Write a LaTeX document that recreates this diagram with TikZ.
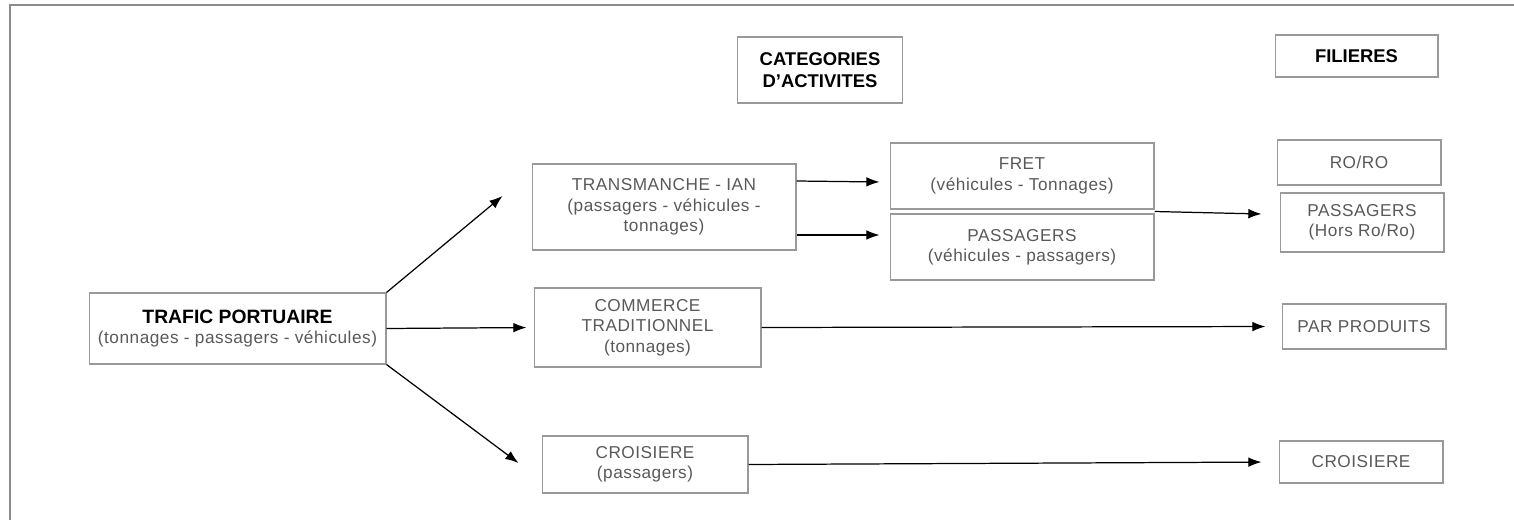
\documentclass[tikz,border=0pt]{standalone}
\usepackage{fontspec}
\setmainfont{Liberation Sans}
\newfontfamily\largefont[LetterSpace=3]{Liberation Sans}
\usetikzlibrary{arrows.meta,calc}

\begin{document}
\begin{tikzpicture}[x=0.02cm,y=-0.02cm,
	box/.style={draw=black!40, line width=0.6pt, inner sep=0pt, align=center, text=black!65, font=\largefont\fontsize{9.8}{11.6}\selectfont},
	head/.style={box, text=black, font=\rmfamily\fontsize{10.5}{12.5}\selectfont\bfseries},
	fleche/.style={-{Latex[length=7.5pt,width=5.5pt]}, line width=0.7pt}]

	\useasboundingbox (0,0) rectangle (1514,520);
	\draw[black!45, line width=1.1pt] (1514,5) -- (10,5) -- (10,520);

	\node[head, minimum width=3.3cm, minimum height=1.32cm] (cat) at (820,70) {CATEGORIES\\D'ACTIVITES};
	\node[head, minimum width=3.26cm, minimum height=0.84cm] (fil) at (1356.5,56) {FILIERES};

	\node[box, minimum width=5.94cm, minimum height=1.42cm] (trafic) at (237.5,328.5) {{\rmfamily\color{black}\fontsize{11}{13}\selectfont\bfseries TRAFIC PORTUAIRE}\\(tonnages - passagers - véhicules)};

	\node[box, minimum width=5.28cm, minimum height=1.72cm] (trans) at (664,207) {TRANSMANCHE - IAN\\(passagers - véhicules -\\tonnages)};
	\node[box, minimum width=4.54cm, minimum height=1.58cm] (comm) at (647.5,327.5) {COMMERCE\\TRADITIONNEL\\(tonnages)};
	\node[box, minimum width=4.12cm, minimum height=1.14cm] (croisL) at (645,464.5) {CROISIERE\\(passagers)};

	\node[box, minimum width=5.28cm, minimum height=1.32cm] (fret) at (1022,176) {FRET\\(véhicules - Tonnages)};
	\node[box, minimum width=5.28cm, minimum height=1.32cm] (pass) at (1022,247) {PASSAGERS\\(véhicules - passagers)};

	\node[box, minimum width=3.28cm, minimum height=0.9cm] (roro) at (1359,162.5) {RO/RO};
	\node[box, minimum width=3.28cm, minimum height=1.18cm] (hors) at (1362,222.5) {PASSAGERS\\(Hors Ro/Ro)};
	\node[box, minimum width=3.28cm, minimum height=0.9cm] (prod) at (1364,326.5) {PAR PRODUITS};
	\node[box, minimum width=3.28cm, minimum height=0.84cm] (croisR) at (1361,462) {CROISIERE};

	\draw[fleche] (trafic.north east) -- ($(trans.west)+(-29,-11)$);
	\draw[fleche, shorten >=0.14cm] (trafic.east) -- (comm.west);
	\draw[fleche] (trafic.south east) -- ($(croisL.west)+(-23,-1.5)$);

	\draw[fleche] ($(trans.east)+(0,-26)$) -- ($(fret.west)+(-10,6)$);
	\draw[fleche] ($(trans.east)+(0,28)$) -- ($(pass.west)+(-10,-12)$);

	\draw[fleche] ($(fret.south east)!0.5!(pass.north east)$) -- ($(hors.west)+(-18,-8.5)$);
	\draw[fleche, shorten >=0.32cm] (comm.east) -- (prod.west);
	\draw[fleche, shorten >=0.34cm] (croisL.east) -- (croisR.west);

\end{tikzpicture}
\end{document}
